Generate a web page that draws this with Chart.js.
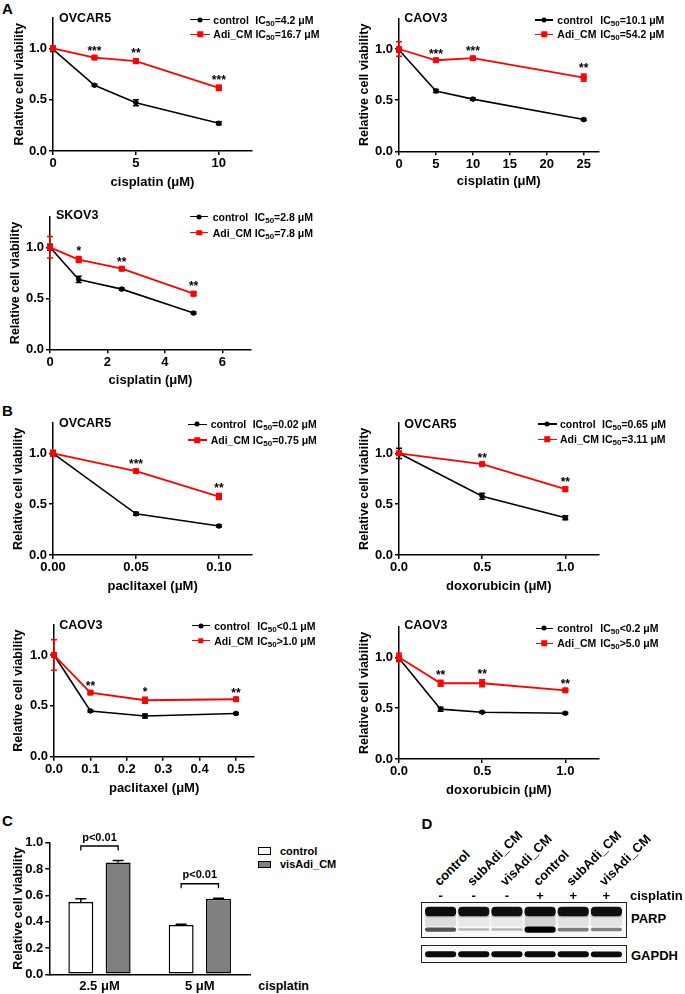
<!DOCTYPE html>
<html><head><meta charset="utf-8">
<script src="https://cdn.jsdelivr.net/npm/chart.js@4.4.1/dist/chart.umd.min.js"></script>
<style>
html,body{margin:0;padding:0;background:#fff;}
#fig{position:relative;width:685px;height:994px;overflow:hidden;font-family:'Liberation Sans',Arial,sans-serif;font-weight:bold;color:#000;}
.abs{position:absolute;white-space:nowrap;}
canvas{position:absolute;}
.row{position:absolute;height:14px;display:flex;align-items:center;font-size:10.5px;white-space:nowrap;}
.sym{position:relative;height:14px;flex:none;}
.sym .ln{position:absolute;left:0;right:0;top:6.25px;height:1.5px;}
.sym .mk{position:absolute;top:50%;left:50%;transform:translate(-50%,-50%);}
sub{font-size:8px;vertical-align:-2px;line-height:0;}
.box{position:absolute;box-sizing:border-box;border:1.5px solid #222;background:#f8f8f8;}
</style></head><body><div id="fig"></div>
<script>
// ---------------- DATA ----------------
const seriesNames = ['control', 'Adi_CM'];
const yTicksLine = [0, 0.5, 1.0];
const yLabelsLine = ['0.0', '0.5', '1.0'];

// A: cisplatin, OVCAR5
const a1Dose = [0, 2.5, 5, 10];
const a1Control = [0.99, 0.64, 0.47, 0.27];
const a1ControlErr = [0.02, 0.01, 0.03, 0.015];
const a1Adi = [1.0, 0.91, 0.875, 0.615];
const a1AdiErr = [0.02, 0.01, 0.02, 0.025];
const a1Stars = ['', '***', '**', '***'];
const a1XTicks = [0, 5, 10];
const a1XLabels = ['0', '5', '10'];
const a1IC50 = ['=4.2 μM', '=16.7 μM'];

// A: cisplatin, CAOV3
const a2Dose = [0, 5, 10, 25];
const a2Control = [0.99, 0.59, 0.51, 0.31];
const a2ControlErr = [0.02, 0.015, 0.01, 0.01];
const a2Adi = [1.0, 0.89, 0.91, 0.72];
const a2AdiErr = [0.07, 0.01, 0.015, 0.035];
const a2Stars = ['', '***', '***', '**'];
const a2XTicks = [0, 5, 10, 15, 20, 25];
const a2XLabels = ['0', '5', '10', '15', '20', '25'];
const a2IC50 = ['=10.1 μM', '=54.2 μM'];

// A: cisplatin, SKOV3
const a3Dose = [0, 1, 2.5, 5];
const a3Control = [1.0, 0.685, 0.59, 0.355];
const a3ControlErr = [0.03, 0.03, 0.01, 0.01];
const a3Adi = [1.0, 0.88, 0.79, 0.545];
const a3AdiErr = [0.105, 0.03, 0.01, 0.02];
const a3Stars = ['', '*', '**', '**'];
const a3XTicks = [0, 2, 4, 6];
const a3XLabels = ['0', '2', '4', '6'];
const a3IC50 = ['=2.8 μM', '=7.8 μM'];

// B: paclitaxel, OVCAR5
const b1Dose = [0, 0.05, 0.10];
const b1Control = [1.0, 0.405, 0.285];
const b1ControlErr = [0.01, 0.015, 0.01];
const b1Adi = [1.0, 0.825, 0.575];
const b1AdiErr = [0.03, 0.01, 0.03];
const b1Stars = ['', '***', '**'];
const b1XTicks = [0, 0.05, 0.10];
const b1XLabels = ['0.00', '0.05', '0.10'];
const b1IC50 = ['=0.02 μM', '=0.75 μM'];

// B: doxorubicin, OVCAR5
const b2Dose = [0, 0.5, 1.0];
const b2Control = [1.0, 0.578, 0.367];
const b2ControlErr = [0.05, 0.03, 0.02];
const b2Adi = [1.0, 0.893, 0.647];
const b2AdiErr = [0.02, 0.01, 0.02];
const b2Stars = ['', '**', '**'];
const b2XTicks = [0, 0.5, 1.0];
const b2XLabels = ['0.0', '0.5', '1.0'];
const b2IC50 = ['=0.65 μM', '=3.11 μM'];

// B: paclitaxel, CAOV3
const b3Dose = [0, 0.1, 0.25, 0.5];
const b3Control = [1.0, 0.45, 0.40, 0.425];
const b3ControlErr = [0.02, 0.01, 0.02, 0.01];
const b3Adi = [1.0, 0.63, 0.555, 0.565];
const b3AdiErr = [0.15, 0.015, 0.03, 0.01];
const b3Stars = ['', '**', '*', '**'];
const b3XTicks = [0, 0.1, 0.2, 0.3, 0.4, 0.5];
const b3XLabels = ['0.0', '0.1', '0.2', '0.3', '0.4', '0.5'];
const b3IC50 = ['<0.1 μM', '>1.0 μM'];

// B: doxorubicin, CAOV3
const b4Dose = [0, 0.25, 0.5, 1.0];
const b4Control = [0.99, 0.49, 0.46, 0.45];
const b4ControlErr = [0.02, 0.02, 0.01, 0.01];
const b4Adi = [1.0, 0.745, 0.745, 0.675];
const b4AdiErr = [0.04, 0.03, 0.035, 0.01];
const b4Stars = ['', '**', '**', '**'];
const b4XTicks = [0, 0.5, 1.0];
const b4XLabels = ['0.0', '0.5', '1.0'];
const b4IC50 = ['<0.2 μM', '>5.0 μM'];

// C: bar chart
const cCategories = ['2.5 μM', '5 μM'];
const cSeries = ['control', 'visAdi_CM'];
const cControl = [0.55, 0.375];
const cControlErr = [0.025, 0.006];
const cVis = [0.85, 0.575];
const cVisErr = [0.015, 0.003];
const cPvalues = ['p<0.01', 'p<0.01'];
const cYTicks = [0, 0.2, 0.4, 0.6, 0.8, 1.0];

// D: western blot (relative band intensities)
const blotLanes = ['control', 'subAdi_CM', 'visAdi_CM', 'control', 'subAdi_CM', 'visAdi_CM'];
const blotCisplatin = ['-', '-', '-', '+', '+', '+'];
const parpFull = [1.0, 0.95, 0.95, 1.0, 0.95, 0.95];
const parpCleaved = [0.55, 0.08, 0.08, 1.0, 0.35, 0.32];
const gapdhLevel = [1.0, 1.0, 1.0, 1.0, 1.0, 0.97];

// ---------------- HELPERS ----------------
const FONT = "'Liberation Sans', Arial, sans-serif";
const RED = '#ff0000';
const fig = document.getElementById('fig');

function mkCanvas(L, T, W, H) {
  const c = document.createElement('canvas');
  c.width = W; c.height = H;
  c.style.left = L + 'px'; c.style.top = T + 'px';
  c.style.width = W + 'px'; c.style.height = H + 'px';
  fig.appendChild(c);
  return c;
}
function text(x, yc, str, size, align) {
  const d = document.createElement('div');
  d.className = 'abs';
  d.textContent = str;
  d.style.fontSize = size + 'px';
  d.style.lineHeight = size + 'px';
  d.style.top = (yc - size / 2) + 'px';
  d.style.left = x + 'px';
  if (align === 'center') d.style.transform = 'translateX(-50%)';
  fig.appendChild(d);
  return d;
}
function legendRow(lineL, lineR, textX, nameW, yc, color, marker, name, ic) {
  const r = document.createElement('div');
  r.className = 'row';
  r.style.left = lineL + 'px';
  r.style.top = (yc - 7) + 'px';
  const s = document.createElement('div');
  s.className = 'sym';
  s.style.width = (lineR - lineL) + 'px';
  s.style.marginRight = (textX - lineR) + 'px';
  const mk = marker === 'circle'
    ? `<div class="mk" style="width:5px;height:5px;border-radius:50%;background:${color}"></div>`
    : `<div class="mk" style="width:5.5px;height:5.5px;background:${color}"></div>`;
  s.innerHTML = `<div class="ln" style="background:${color}"></div>` + mk;
  r.appendChild(s);
  const n = document.createElement('span');
  n.style.display = 'inline-block';
  n.style.minWidth = nameW + 'px';
  n.style.paddingRight = '3px';
  n.textContent = name;
  r.appendChild(n);
  const icSpan = document.createElement('span');
  icSpan.innerHTML = 'IC<sub>50</sub>' + ic;
  r.appendChild(icSpan);
  fig.appendChild(r);
}

const errorBarPlugin = {
  id: 'errbars',
  afterDatasetDraw(chart, args) {
    const ds = chart.data.datasets[args.index];
    if (!ds.errors) return;
    const ctx = chart.ctx, ys = chart.scales.y;
    ctx.save();
    ctx.strokeStyle = ds.borderColor;
    ctx.lineWidth = 1.5;
    args.meta.data.forEach((el, i) => {
      const e = ds.errors[i];
      if (!e) return;
      const raw = ds.data[i];
      const v = (typeof raw === 'object') ? raw.y : raw;
      const cap = ds.capHalf || 3;
      const yTop = ys.getPixelForValue(v + e);
      const yBot = ds.errUpOnly ? ys.getPixelForValue(v) : ys.getPixelForValue(v - e);
      ctx.beginPath();
      ctx.moveTo(el.x, yTop); ctx.lineTo(el.x, yBot);
      ctx.moveTo(el.x - cap, yTop); ctx.lineTo(el.x + cap, yTop);
      if (!ds.errUpOnly) { ctx.moveTo(el.x - cap, yBot); ctx.lineTo(el.x + cap, yBot); }
      ctx.stroke();
    });
    ctx.restore();
  }
};
const starPlugin = {
  id: 'stars',
  afterDatasetsDraw(chart) {
    const ctx = chart.ctx, ys = chart.scales.y;
    chart.data.datasets.forEach((ds, di) => {
      if (!ds.stars) return;
      const meta = chart.getDatasetMeta(di);
      ctx.save();
      ctx.font = 'bold 12px ' + FONT;
      ctx.fillStyle = '#000';
      ctx.textAlign = 'center';
      ctx.textBaseline = 'alphabetic';
      meta.data.forEach((el, i) => {
        const s = ds.stars[i];
        if (!s) return;
        const top = ds.data[i].y + (ds.errors ? ds.errors[i] : 0);
        ctx.fillText(s, el.x, ys.getPixelForValue(top) - 1.6);
      });
      ctx.restore();
    });
  }
};

function lineChart(g, d) {
  const lhY = 12.5 * 1.2, lhX = 13 * 1.2;
  const c = mkCanvas(g.L, g.T, g.W, g.H);
  const padLeft = g.yTitleX - g.L - lhY / 2;
  const yW = g.axisX - g.L - padLeft;
  const padTop = g.plotTop - g.T;
  const padRight = g.L + g.W - g.plotRight;
  const xBottom = g.xTitleY + lhX / 2;
  const xH = xBottom - g.axisBottom;
  const padBottom = g.T + g.H - xBottom;
  const tickFont = { family: FONT, size: 13, weight: 'bold' };
  const grid = { drawOnChartArea: false, drawTicks: true, tickLength: 4, color: '#000', lineWidth: 1.5 };
  const border = { color: '#000', width: 1.5 };
  new Chart(c, {
    type: 'line',
    data: {
      datasets: [
        { label: seriesNames[0], data: d.dose.map((x, i) => ({ x: x, y: d.ctrl[i] })), errors: d.ctrlErr,
          borderColor: '#000', backgroundColor: '#000', pointStyle: 'circle', pointRadius: 2.3, pointBorderWidth: 1,
          borderWidth: 1.6, order: 2, clip: false },
        { label: seriesNames[1], data: d.dose.map((x, i) => ({ x: x, y: d.adi[i] })), errors: d.adiErr, stars: d.stars,
          borderColor: RED, backgroundColor: RED, pointStyle: 'rect', pointRadius: 3.6, pointBorderWidth: 1,
          borderWidth: 1.8, order: 1, clip: false }
      ]
    },
    options: {
      responsive: false, animation: false, events: [],
      layout: { padding: { left: padLeft, right: padRight, top: padTop, bottom: padBottom } },
      plugins: { legend: { display: false }, tooltip: { enabled: false } },
      scales: {
        x: {
          type: 'linear', min: 0, max: d.xMax,
          afterBuildTicks: ax => { ax.ticks = d.xTicks.map(v => ({ value: v })); },
          afterFit: s => { s.height = xH; },
          ticks: { callback: (v, i) => d.xLabels[i], font: tickFont, color: '#000', padding: 1, maxRotation: 0, autoSkip: false },
          grid: grid, border: border,
          title: { display: true, text: d.xTitle, font: { family: FONT, size: 13, weight: 'bold' }, color: '#000', padding: 0 }
        },
        y: {
          type: 'linear', min: 0, max: 1.3,
          afterBuildTicks: ax => { ax.ticks = yTicksLine.map(v => ({ value: v })); },
          afterFit: s => { s.width = yW; },
          ticks: { callback: (v, i) => yLabelsLine[i], font: tickFont, color: '#000', padding: 2, autoSkip: false },
          grid: grid, border: border,
          title: { display: true, text: 'Relative cell viability', font: { family: FONT, size: 12.5, weight: 'bold' }, color: '#000', padding: 0 }
        }
      }
    },
    plugins: [errorBarPlugin, starPlugin]
  });
  // cell line title
  text(g.titleX, g.titleY, d.title, 12.5);
  // legend
  const lg = g.leg;
  legendRow(lg[0], lg[1], lg[2], lg[3], lg[4], '#000', 'circle', seriesNames[0], d.ic[0]);
  legendRow(lg[0], lg[1], lg[2], lg[3], lg[5], RED, 'rect', seriesNames[1], d.ic[1]);
}

// ---------------- PANEL A ----------------
text(2, 8, 'A', 15);
lineChart({ L: 0, T: 0, W: 262, H: 192, axisX: 53, axisBottom: 151, plotTop: 17.5, plotRight: 252, yTitleX: 19.3, xTitleY: 182,
  titleX: 59, titleY: 18.3, leg: [190, 210, 213.3, 39, 19.7, 34.3] },
  { dose: a1Dose, ctrl: a1Control, ctrlErr: a1ControlErr, adi: a1Adi, adiErr: a1AdiErr, stars: a1Stars,
    xMax: 12, xTicks: a1XTicks, xLabels: a1XLabels, xTitle: 'cisplatin (μM)', title: 'OVCAR5', ic: a1IC50 });

lineChart({ L: 345, T: 0, W: 262, H: 192, axisX: 399, axisBottom: 151.3, plotTop: 18.3, plotRight: 598.5, yTitleX: 365, xTitleY: 181.7,
  titleX: 404.3, titleY: 18.3, leg: [535, 553.3, 557.3, 40, 20, 34.3] },
  { dose: a2Dose, ctrl: a2Control, ctrlErr: a2ControlErr, adi: a2Adi, adiErr: a2AdiErr, stars: a2Stars,
    xMax: 27, xTicks: a2XTicks, xLabels: a2XLabels, xTitle: 'cisplatin (μM)', title: 'CAOV3', ic: a2IC50 });

lineChart({ L: 0, T: 192, W: 262, H: 196, axisX: 50, axisBottom: 349.3, plotTop: 216.7, plotRight: 251, yTitleX: 15.3, xTitleY: 380,
  titleX: 56, titleY: 215.7, leg: [190, 208.3, 212.7, 39, 216.7, 232.7] },
  { dose: a3Dose, ctrl: a3Control, ctrlErr: a3ControlErr, adi: a3Adi, adiErr: a3AdiErr, stars: a3Stars,
    xMax: 7, xTicks: a3XTicks, xLabels: a3XLabels, xTitle: 'cisplatin (μM)', title: 'SKOV3', ic: a3IC50 });

// ---------------- PANEL B ----------------
text(2, 410, 'B', 15);
lineChart({ L: 0, T: 400, W: 262, H: 196, axisX: 53, axisBottom: 555, plotTop: 422.8, plotRight: 252.2, yTitleX: 18.3, xTitleY: 586.7,
  titleX: 59, titleY: 423.3, leg: [188.3, 206.7, 210.7, 39, 424.3, 440] },
  { dose: b1Dose, ctrl: b1Control, ctrlErr: b1ControlErr, adi: b1Adi, adiErr: b1AdiErr, stars: b1Stars,
    xMax: 0.12, xTicks: b1XTicks, xLabels: b1XLabels, xTitle: 'paclitaxel (μM)', title: 'OVCAR5', ic: b1IC50 });

lineChart({ L: 345, T: 400, W: 262, H: 196, axisX: 399, axisBottom: 555, plotTop: 422.8, plotRight: 598.6, yTitleX: 364.2, xTitleY: 586.7,
  titleX: 404.3, titleY: 424.3, leg: [538.3, 556.7, 560, 39, 424, 439.3] },
  { dose: b2Dose, ctrl: b2Control, ctrlErr: b2ControlErr, adi: b2Adi, adiErr: b2AdiErr, stars: b2Stars,
    xMax: 1.2, xTicks: b2XTicks, xLabels: b2XLabels, xTitle: 'doxorubicin (μM)', title: 'OVCAR5', ic: b2IC50 });

lineChart({ L: 0, T: 600, W: 262, H: 200, axisX: 54, axisBottom: 756.7, plotTop: 624.5, plotRight: 254.2, yTitleX: 18.3, xTitleY: 788.3,
  titleX: 59.3, titleY: 625, leg: [191.7, 210, 214.3, 40, 625.7, 640.7] },
  { dose: b3Dose, ctrl: b3Control, ctrlErr: b3ControlErr, adi: b3Adi, adiErr: b3AdiErr, stars: b3Stars,
    xMax: 0.55, xTicks: b3XTicks, xLabels: b3XLabels, xTitle: 'paclitaxel (μM)', title: 'CAOV3', ic: b3IC50 });

lineChart({ L: 345, T: 600, W: 262, H: 200, axisX: 399, axisBottom: 759, plotTop: 626.8, plotRight: 598.6, yTitleX: 364.2, xTitleY: 790,
  titleX: 404.3, titleY: 625, leg: [535.7, 553.3, 557.3, 40, 628.3, 643.3] },
  { dose: b4Dose, ctrl: b4Control, ctrlErr: b4ControlErr, adi: b4Adi, adiErr: b4AdiErr, stars: b4Stars,
    xMax: 1.2, xTicks: b4XTicks, xLabels: b4XLabels, xTitle: 'doxorubicin (μM)', title: 'CAOV3', ic: b4IC50 });

// ---------------- PANEL C ----------------
text(2, 820, 'C', 15);
(function () {
  const L = 0, T = 825, W = 255, H = 169;
  const axisX = 49.3, axisBottom = 974.3, plotTop = 842.7, plotRight = 250, yTitleX = 19;
  const lhY = 12.5 * 1.2;
  const padLeft = yTitleX - L - lhY / 2;
  const yW = axisX - L - padLeft;
  const xH = T + H - axisBottom;
  const c = mkCanvas(L, T, W, H);
  const tickFont = { family: FONT, size: 13, weight: 'bold' };
  const bracketPlugin = {
    id: 'brackets',
    afterDatasetsDraw(chart) {
      const ctx = chart.ctx, ys = chart.scales.y;
      const m0 = chart.getDatasetMeta(0), m1 = chart.getDatasetMeta(1);
      ctx.save();
      ctx.strokeStyle = '#000'; ctx.lineWidth = 1.3;
      ctx.font = 'bold 11px ' + FONT; ctx.fillStyle = '#000';
      ctx.textAlign = 'center'; ctx.textBaseline = 'middle';
      cPvalues.forEach((p, j) => {
        const topVal = Math.max(cControl[j] + cControlErr[j], cVis[j] + cVisErr[j]) + 0.11;
        const y = ys.getPixelForValue(topVal);
        const x1 = m0.data[j].x, x2 = m1.data[j].x;
        ctx.beginPath();
        ctx.moveTo(x1, y + 4.5); ctx.lineTo(x1, y); ctx.lineTo(x2, y); ctx.lineTo(x2, y + 4.5);
        ctx.stroke();
        ctx.fillText(p, (x1 + x2) / 2, y - 8.5);
      });
      ctx.restore();
    }
  };
  new Chart(c, {
    type: 'bar',
    data: {
      labels: cCategories,
      datasets: [
        { label: cSeries[0], data: cControl, errors: cControlErr, errUpOnly: true, capHalf: 5.5,
          backgroundColor: '#ffffff', borderColor: '#000', borderWidth: 1.5, borderSkipped: false,
          categoryPercentage: 0.744, barPercentage: 0.668 },
        { label: cSeries[1], data: cVis, errors: cVisErr, errUpOnly: true, capHalf: 5.5,
          backgroundColor: '#808080', borderColor: '#000', borderWidth: 1.5, borderSkipped: false,
          categoryPercentage: 0.744, barPercentage: 0.668 }
      ]
    },
    options: {
      responsive: false, animation: false, events: [],
      layout: { padding: { left: padLeft, right: L + W - plotRight, top: plotTop - T, bottom: 0 } },
      plugins: { legend: { display: false }, tooltip: { enabled: false } },
      scales: {
        x: {
          afterFit: s => { s.height = xH; },
          ticks: { font: tickFont, color: '#000', padding: 4.6, maxRotation: 0 },
          grid: { drawOnChartArea: false, drawTicks: false, color: '#000' },
          border: { color: '#000', width: 1.5 }
        },
        y: {
          min: 0, max: 1.0,
          afterBuildTicks: ax => { ax.ticks = cYTicks.map(v => ({ value: v })); },
          afterFit: s => { s.width = yW; },
          ticks: { callback: v => v.toFixed(1), font: tickFont, color: '#000', padding: 2, autoSkip: false },
          grid: { drawOnChartArea: false, drawTicks: true, tickLength: 4, color: '#000', lineWidth: 1.5 },
          border: { color: '#000', width: 1.5 },
          title: { display: true, text: 'Relative cell viability', font: { family: FONT, size: 12.5, weight: 'bold' }, color: '#000', padding: 0 }
        }
      }
    },
    plugins: [errorBarPlugin, bracketPlugin]
  });
  text(258.3, 986.7, 'cisplatin', 12.5);
  // legend
  const rows = [851, 864.7];
  const fills = ['#ffffff', '#808080'];
  cSeries.forEach((s, i) => {
    const b = document.createElement('div');
    b.style.cssText = `position:absolute;left:258px;top:${rows[i] - 3.8}px;width:12.5px;height:7.6px;box-sizing:border-box;border:1.3px solid #000;background:${fills[i]};`;
    fig.appendChild(b);
    text(280, rows[i], s, 11);
  });
})();

// ---------------- PANEL D ----------------
text(421.5, 823, 'D', 15);
(function () {
  // frames
  const f1 = document.createElement('div'); f1.className = 'box';
  f1.style.cssText += 'left:421px;top:902px;width:206px;height:36px;';
  fig.appendChild(f1);
  const f2 = document.createElement('div'); f2.className = 'box';
  f2.style.cssText += 'left:421px;top:945px;width:206px;height:18px;';
  fig.appendChild(f2);

  const blotOpts = (h) => ({
    responsive: false, animation: false, events: [],
    layout: { padding: 0 },
    plugins: { legend: { display: false }, tooltip: { enabled: false } },
    scales: {
      x: { display: false },
      y: { display: false, min: 0, max: h, reverse: true }
    }
  });
  const band = (vals, center, thick, colorFn, extra) => Object.assign({
    data: vals.map((v, i) => { const t = thick(v); return [center - t / 2, center + t / 2]; }),
    backgroundColor: vals.map(colorFn),
    borderWidth: 0, borderSkipped: false, borderRadius: 4, grouped: false,
    categoryPercentage: 1.0, barPercentage: 0.94
  }, extra || {});

  const cp = mkCanvas(424, 903, 199, 34);
  cp.style.filter = 'blur(0.5px)';
  const parpChart = new Chart(cp, {
    type: 'bar',
    data: {
      labels: blotLanes,
      datasets: [
        band(parpCleaved, 19, v => 9, v => `rgba(0,0,0,${0.05 + 0.1 * v})`, { borderRadius: 2 }),
        band(parpFull, 8.5, v => 8 + 1.5 * v, v => `rgba(12,12,12,${0.8 + 0.2 * v})`),
        band(parpFull, 13.2, v => 2.5, v => `rgba(0,0,0,${0.25 * v})`, { borderRadius: 2 }),
        band(parpCleaved, 26.6, v => 2.2 + 4 * v, v => `rgba(0,0,0,${Math.min(1, 0.2 + 0.85 * v)})`, { borderRadius: 3 })
      ]
    },
    options: blotOpts(34)
  });

  const cg = mkCanvas(424, 946, 199, 16);
  cg.style.filter = 'blur(0.5px)';
  new Chart(cg, {
    type: 'bar',
    data: {
      labels: blotLanes,
      datasets: [
        band(gapdhLevel, 8.3, v => 6 * v, v => `rgba(10,10,10,${0.85 + 0.15 * v})`, { borderRadius: 3 })
      ]
    },
    options: blotOpts(16)
  });

  const xs = parpChart.scales.x;
  blotLanes.forEach((name, i) => {
    const xc = 424 + xs.getPixelForValue(i);
    const el = document.createElement('div');
    el.className = 'abs';
    el.textContent = name;
    el.style.cssText += `left:${xc}px;top:${888 - 13}px;font-size:13px;line-height:13px;transform-origin:0 100%;transform:rotate(-45deg);`;
    fig.appendChild(el);
    text(xc, 895, blotCisplatin[i], 13, 'center');
  });
  text(630, 895, 'cisplatin', 13);
  text(631, 918.3, 'PARP', 13);
  text(631, 955.5, 'GAPDH', 13);
})();
</script></body></html>
